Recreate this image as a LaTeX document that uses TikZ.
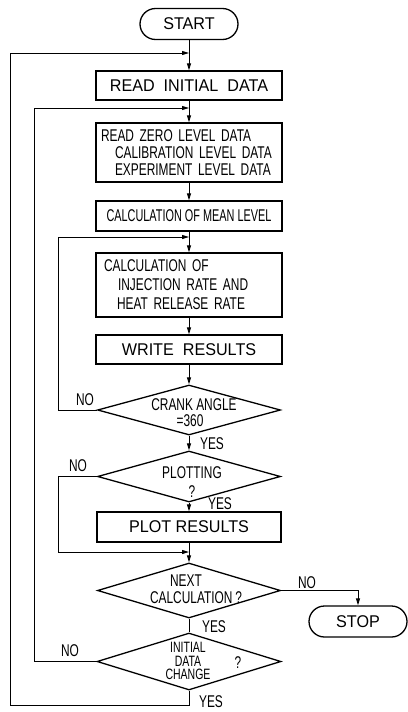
\documentclass[tikz,border=0pt]{standalone}
\usepackage{fontspec}
\setmainfont{Liberation Sans}[FakeStretch=0.7]
\newfontfamily\widefont{Liberation Sans}[FakeStretch=0.95]
\newfontfamily\narrowerfont{Liberation Sans}[FakeStretch=0.64]
\usetikzlibrary{shapes.geometric,arrows.meta}
\begin{document}
\begin{tikzpicture}[x=1pt,y=-1pt,
  every node/.style={font=\fontsize{17}{17}\selectfont, inner sep=0pt},
  wide/.style={font=\widefont\fontsize{17}{17}\selectfont},
  boxn/.style={draw, line width=1.3pt, rectangle, minimum width=186pt},
  capn/.style={draw, line width=1.3pt, rectangle, rounded corners=15.5pt, minimum width=98pt, minimum height=31pt},
  dian/.style={draw, diamond, line width=1.3pt, inner sep=0pt, minimum width=183pt},
  conn/.style={line width=0.9pt},
  arr/.style={conn, -{Triangle[length=7pt,width=4pt]}},
  lab/.style={font=\fontsize{17}{17}\selectfont}
]
\useasboundingbox (0,0) rectangle (407,712);

% main column
\node[capn, wide] (start) at (189,24) {START};
\node[boxn, wide, minimum height=29pt] (rid) at (189,85.5) {READ\ \ INITIAL\ \ DATA};
\node[boxn, minimum height=59pt, text width=176pt, align=left, inner xsep=5pt] (rzero) at (189,152.5)
  {READ ZERO LEVEL DATA\\\hspace*{14pt}CALIBRATION LEVEL DATA\\\hspace*{14pt}EXPERIMENT LEVEL DATA};
\node[boxn, minimum height=30pt, font=\narrowerfont\fontsize{17}{17}\selectfont] (mean) at (189,216) {CALCULATION OF MEAN LEVEL};
\node[boxn, minimum height=64pt, text width=170pt, align=left, inner xsep=8pt, font=\fontsize{17}{19}\selectfont] (calc) at (189,285)
  {CALCULATION OF\\\hspace*{14pt}INJECTION RATE AND\\\hspace*{13pt}HEAT RELEASE RATE};
\node[boxn, wide, minimum height=29pt] (write) at (189,349.5) {WRITE\ \ RESULTS};
\node[dian, minimum height=50pt] (crank) at (189,410) {};
\node[dian, minimum height=51pt] (plotq) at (189,476.5) {};
\node[boxn, wide, minimum width=184pt, minimum height=30pt] (plot) at (189,527) {PLOT\ RESULTS};
\node[dian, minimum height=55pt] (nextq) at (189,590.5) {};
\node[dian, minimum height=57pt, minimum width=184pt] (initq) at (189,661.5) {};
\node[capn, wide] (stop) at (358,621.5) {STOP};

% diamond texts
\node (crankt1) at (194,405) {CRANK ANGLE};
\node (crankt2) at (190,420.5) {=360};
\node[align=center, font=\fontsize{17}{19}\selectfont] (plott) at (192,482) {PLOTTING\\?};
\node (nextt1) at (186,581) {NEXT};
\node (nextt2) at (196,598) {CALCULATION\,?};
\node[align=center, font=\fontsize{15}{13.5}\selectfont] (initt) at (188,661) {INITIAL\\DATA\\CHANGE};
\node (initqm) at (238,663) {?};

% labels
\node[lab] (no1) at (85,400) {NO};
\node[lab] (yes1) at (212,444) {YES};
\node[lab] (no2) at (78,466) {NO};
\node[lab] (yes2) at (220,504) {YES};
\node[lab] (no3) at (307,583) {NO};
\node[lab] (yes3) at (214,627) {YES};
\node[lab] (no4) at (70,651) {NO};
\node[lab] (yes4) at (211,702) {YES};

% joins and corners
\coordinate (j1) at (189,53);
\coordinate (j2) at (189,108);
\coordinate (j3) at (189,237);
\coordinate (j4) at (189,552);
\coordinate (l1) at (10,705);
\coordinate (l2) at (34,661.5);
\coordinate (l3) at (58,410);
\coordinate (l4) at (58,476.5);

% connectors
\draw[arr] (start) -- (rid);
\draw[arr] (rid) -- (rzero);
\draw[arr] (rzero) -- (mean);
\draw[arr] (mean) -- (calc);
\draw[arr] (calc) -- (write);
\draw[arr] (write) -- (crank);
\draw[arr] (crank) -- (plotq);
\draw[arr] (plotq) -- (plot);
\draw[arr] (plot) -- (nextq);
\draw[conn] (nextq) -- (initq);
\draw[arr] (nextq.east) -| (stop.north);
\draw[arr] (initq.south) |- (l1) |- (j1);
\draw[arr] (initq.west) -- (l2) |- (j2);
\draw[arr] (crank.west) -- (l3) |- (j3);
\draw[arr] (plotq.west) -- (l4) |- (j4);
\end{tikzpicture}
\end{document}
